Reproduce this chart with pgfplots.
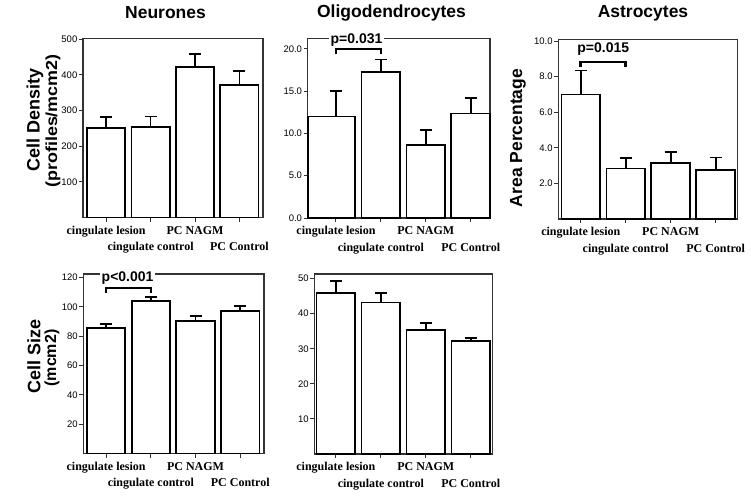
\documentclass[border=0pt]{standalone}
\usepackage{fontspec}
\setmainfont{Liberation Sans}
\newfontfamily\tnr{Liberation Serif}
\usepackage{pgfplots}
\pgfplotsset{compat=1.18}

\definecolor{frame}{HTML}{333333}

\pgfplotsset{
  panel/.style={
    scale only axis,
    ymin=0, clip=false,
    axis line style={draw=frame, line width=1.4pt},
    xtick={0,1,2,3},
    xticklabels={{\strut cingulate lesion},{\strut\\\strut cingulate control},{\strut PC NAGM},{\strut\\\strut PC Control}},
    xticklabel style={font=\tnr\bfseries\fontsize{12}{16.5}\selectfont, align=center, inner sep=1pt},
    yticklabel style={font=\fontsize{9.5}{10}\selectfont, inner sep=1.5pt},
    /pgf/number format/assume math mode=true,
    tick align=outside, xtick pos=bottom, ytick pos=left,
    major tick length=4pt,
    tick style={draw=frame, line width=1pt},
  },
  onedec/.style={yticklabel style={/pgf/number format/.cd, fixed, fixed zerofill, precision=1}},
  bars/.style={ybar, bar width=0.86, fill=white, draw=black, line width=1.8pt,
    error bars/.cd, y dir=plus, y explicit,
    error bar style={draw=black, line width=1.8pt},
    error mark options={rotate=90, draw=black, mark size=6pt, line width=1.8pt}},
  errs/.style={draw=none, mark=none,
    error bars/.cd, y dir=plus, y explicit,
    error bar style={draw=black, line width=1.8pt},
    error mark options={rotate=90, draw=black, mark size=6pt, line width=1.8pt}},
}
\tikzset{
  brk/.style={draw=black, line width=2.6pt, line join=miter},
  pval/.style={font=\bfseries\fontsize{14}{14}\selectfont, inner sep=1.5pt},
  ttl/.style={font=\bfseries\fontsize{17.5}{18}\selectfont},
}

\begin{document}
\begin{tikzpicture}
\path[use as bounding box] (0,0) rectangle (751pt,-495pt);

% titles and y labels
\node[ttl] at (165.5pt,-13pt) {Neurones};
\node[ttl] at (391.5pt,-13pt) {Oligodendrocytes};
\node[ttl] at (643pt,-13pt) {Astrocytes};
\node[rotate=90, font=\bfseries\fontsize{18}{18}\selectfont] at (35pt,-120pt) {Cell Density};
\node[rotate=90, font=\bfseries\fontsize{16}{16}\selectfont] at (53pt,-121pt) {\scalebox{1.12}[1]{(profiles/mcm2)}};
\node[rotate=90, font=\bfseries\fontsize{18}{18}\selectfont] at (34pt,-356pt) {Cell Size};
\node[rotate=90, font=\bfseries\fontsize{16}{16}\selectfont] at (52pt,-358pt) {(mcm2)};
\node[rotate=90, font=\bfseries\fontsize{17.5}{18}\selectfont] at (518pt,-138pt) {Area Percentage};

% Neurones, cell density
\begin{axis}[panel, at={(83pt,-217.5pt)}, anchor=south west,
  width=180pt, height=179pt, xmin=-0.52, xmax=3.53, ymax=502,
  ytick={100,200,300,400,500}]
\addplot[bars] coordinates {(0,252) +- (0,29) (1,253) +- (0,30) (2,422) +- (0,37) (3,372) +- (0,39)};
\end{axis}

% Oligodendrocytes, cell density
\begin{axis}[panel, onedec, at={(307.7pt,-218pt)}, anchor=south west,
  width=182.3pt, height=179.3pt, xmin=-0.63, xmax=3.43, ymax=21.2,
  ytick={0,5,10,15,20}]
\addplot[ybar, bar width=1.05, bar shift=-0.095, fill=white, draw=black, line width=1.8pt] coordinates {(0,12.0)};
\addplot[errs] coordinates {(0,12.0) +- (0,3.0)};
\addplot[bars] coordinates {(1,17.3) +- (0,1.45) (2,8.6) +- (0,1.8) (3,12.35) +- (0,1.85)};
\draw[brk] (axis cs:0,19.4) -- (axis cs:0,19.96) -- (axis cs:1,19.96) -- (axis cs:1,19.4);
\node[pval, fill=white] at (axis cs:0.457,21.0) {p=0.031};
\end{axis}

% Astrocytes, area percentage
\begin{axis}[panel, onedec, at={(558.3pt,-219pt)}, anchor=south west,
  width=179.4pt, height=179.7pt, xmin=-0.5, xmax=3.49, ymax=10.1,
  ytick={2,4,6,8,10}]
\addplot[bars] coordinates {(0,7.0) +- (0,1.35) (1,2.84) +- (0,0.58) (2,3.16) +- (0,0.6) (3,2.75) +- (0,0.71)};
\draw[brk] (axis cs:0,8.57) -- (axis cs:0,8.83) -- (axis cs:1,8.83) -- (axis cs:1,8.57);
\node[pval] at (axis cs:0.5,9.53) {p=0.015};
\end{axis}

% Neurones, cell size
\begin{axis}[panel, at={(83.3pt,-453.5pt)}, anchor=south west,
  width=180.7pt, height=179.5pt, xmin=-0.51, xmax=3.53, ymax=122.5,
  ytick={20,40,60,80,100,120}]
\addplot[bars] coordinates {(0,85.7) +- (0,2.9) (1,104.3) +- (0,2.5) (2,90.5) +- (0,3.6) (3,97.0) +- (0,3.9)};
\draw[brk] (axis cs:0,109.5) -- (axis cs:0,113) -- (axis cs:1,113) -- (axis cs:1,109.5);
\node[pval, fill=white] at (axis cs:0.48,120) {p<0.001};
\end{axis}

% Oligodendrocytes, cell size
\begin{axis}[panel, at={(314.3pt,-454pt)}, anchor=south west,
  width=178pt, height=180pt, xmin=-0.48, xmax=3.48, ymax=51.3,
  ytick={10,20,30,40,50}]
\addplot[bars] coordinates {(0,45.8) +- (0,3.4) (1,43.2) +- (0,2.7) (2,35.4) +- (0,2.0) (3,32.1) +- (0,0.9)};
\end{axis}
\end{tikzpicture}
\end{document}
